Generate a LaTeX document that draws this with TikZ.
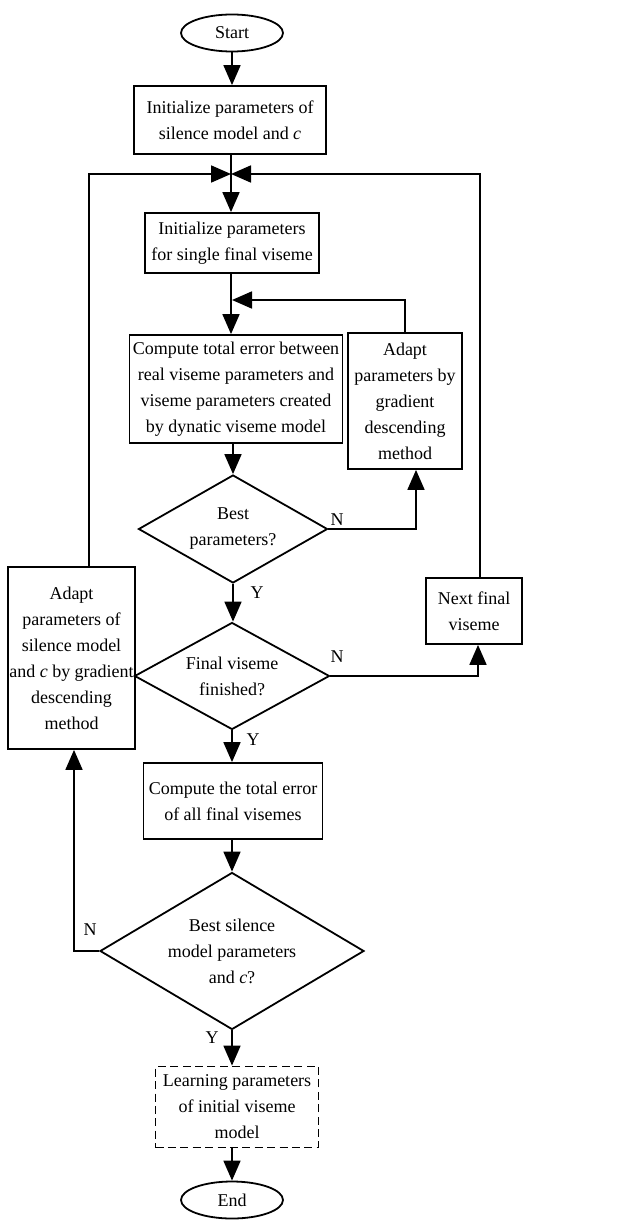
\documentclass[tikz,border=0pt]{standalone}
\usepackage{fontspec}
\setmainfont{Liberation Serif}
\usetikzlibrary{shapes.geometric,arrows.meta,positioning}

\begin{document}
\begin{tikzpicture}[x=0.5pt, y=-0.5pt, line width=0.9pt,
	font=\fontsize{9}{13}\selectfont,
	arr/.style={-{Triangle[length=10pt,width=8.5pt]}},
	blk/.style={draw, rectangle, align=center, inner sep=0pt},
	term/.style={draw, ellipse, inner sep=0pt, minimum width=51pt, minimum height=18.5pt},
	dec/.style={draw, diamond, align=center, inner sep=0pt},
	yn/.style={inner sep=0pt}]
\def \midx {232}
\def \leftx {71.5}
\def \rightx {405}
\useasboundingbox (0,0) rectangle (616,1220);

%Main column
\node[term] (start) at (\midx,33) {Start};
\node[blk, minimum width=96pt, minimum height=34pt] (init) at (230,120) {Initialize parameters of\\silence model and \textit{c}};
\node[blk, minimum width=87pt, minimum height=30pt] (initv) at (\midx,243) {Initialize parameters\\for single final viseme};
\node[blk, minimum width=106.5pt, minimum height=54pt] (comp) at (236,389) {Compute total error between\\real viseme parameters and\\viseme parameters created\\by dynatic viseme model};
\node[dec, aspect=1.75, minimum width=94.5pt, minimum height=54pt] (best) at (233,529) {Best\\parameters?};
\node[dec, aspect=1.8, minimum width=97.5pt, minimum height=53.5pt] (fin) at (\midx,676) {Final viseme\\finished?};
\node[blk, minimum width=89.5pt, minimum height=38pt] (total) at (233,801) {Compute the total error\\of all final visemes};
\node[dec, aspect=1.68, minimum width=132pt, minimum height=78.5pt] (bests) at (\midx,951) {Best silence\\model parameters\\and \textit{c}?};
\node[blk, dashed, dash pattern=on 4pt off 2.2pt, minimum width=81.5pt, minimum height=40.5pt] (learn) at (237,1107) {Learning parameters\\of initial viseme\\model};
\node[term] (end) at (\midx,1200) {End};

%Side boxes
\node[blk, minimum width=57pt, minimum height=68pt] (adaptg) at (\rightx,401) {Adapt\\parameters by\\gradient\\descending\\method};
\node[blk, minimum width=63.5pt, minimum height=91pt] (adaptc) at (\leftx,658) {Adapt\\parameters of\\silence model\\and \textit{c} by gradient\\descending\\method};
\node[blk, minimum width=48pt, minimum height=33pt] (next) at (474,611) {Next final\\viseme};

%Y and N labels
\node[yn] (nbest) at (337,520) {N};
\node[yn] (ybest) at (257,593) {Y};
\node[yn] (nfin) at (337,657) {N};
\node[yn] (yfin) at (253,740) {Y};
\node[yn] (nbests) at (90,930) {N};
\node[yn] (ybests) at (212,1038) {Y};

%Junction points on the main line
\coordinate (jn) at (231,174);
\coordinate (jg) at (232,300);

%Main flow
\draw[arr] (start.south) -- (start.south |- init.north);
\draw[arr] (init.south -| jn) -- (initv.north -| jn);
\draw[arr] (initv.south -| jn) -- (comp.north -| jn);
\draw[arr] (comp.south -| best.north) -- (best.north);
\draw[arr] (best.south) -- (best.south |- fin.north);
\draw[arr] (fin.south) -- (fin.south |- total.north);
\draw[arr] (total.south -| bests.north) -- (bests.north);
\draw[arr] (bests.south) -- (bests.south |- learn.north);
\draw[arr] (learn.south -| end.north) -- (end.north);

%Loops
\draw[arr] (adaptg.north) |- (jg);
\draw[arr] (best.east) -| ([xshift=5.5pt]adaptg.south);
\draw[arr] (fin.east) -| ([xshift=2pt]next.south);
\draw[arr] ([xshift=3pt]next.north) |- (jn);
\draw[arr] (bests.west) -| ([xshift=1.25pt]adaptc.south);
\draw[arr] ([xshift=8.75pt]adaptc.north) |- (jn);

\end{tikzpicture}
\end{document}
